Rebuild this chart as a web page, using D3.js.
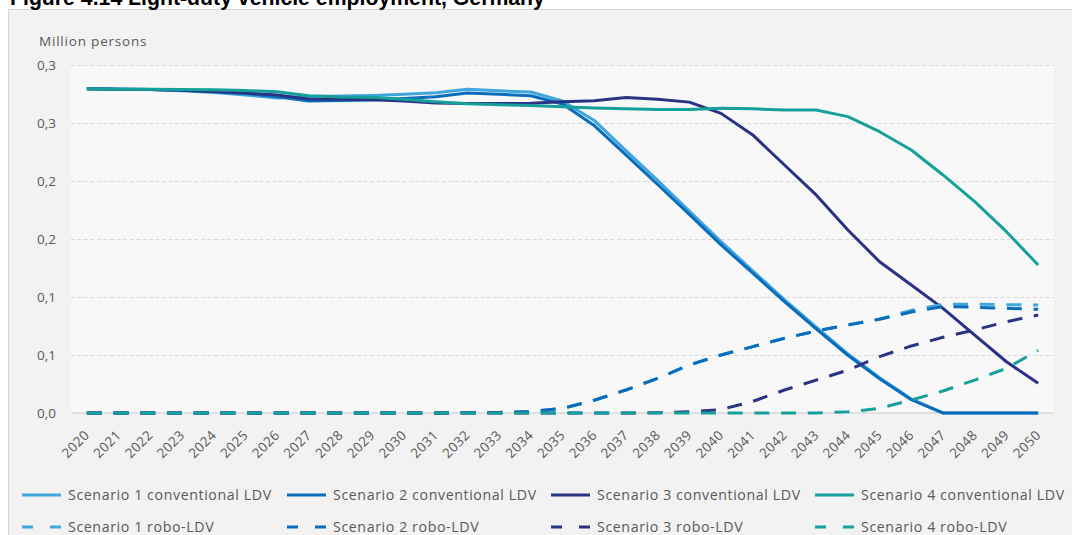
<!DOCTYPE html>
<html>
<head>
<meta charset="utf-8">
<script src="https://cdn.jsdelivr.net/npm/d3@7/dist/d3.min.js"></script>
<style>
  html, body { margin: 0; padding: 0; background: #ffffff; }
  svg { display: block; }
  .lbl { font-family: "Open Sans", "Noto Sans", sans-serif; fill: #595959; }
</style>
</head>
<body>
<svg id="chart" width="1072" height="535"></svg>
<script>
// Light-duty vehicle employment in Germany, million persons, 2020-2050
const years = ["2020","2021","2022","2023","2024","2025","2026","2027","2028","2029","2030",
  "2031","2032","2033","2034","2035","2036","2037","2038","2039","2040",
  "2041","2042","2043","2044","2045","2046","2047","2048","2049","2050"];

const s1Conventional = [0.2795,0.2792,0.2789,0.2778,0.2762,0.2742,0.2715,0.2728,0.2733,0.2737,0.2747,
  0.2760,0.2790,0.2777,0.2767,0.2690,0.2522,0.2262,0.2005,0.1740,0.1478,
  0.1225,0.0978,0.0740,0.0510,0.0305,0.0120,0,0,0,0];
const s2Conventional = [0.2795,0.2792,0.2789,0.2782,0.2770,0.2755,0.2727,0.2690,0.2693,0.2698,0.2712,
  0.2727,0.2759,0.2747,0.2735,0.2664,0.2478,0.2225,0.1970,0.1712,0.1450,
  0.1205,0.0960,0.0725,0.0498,0.0295,0.0115,0,0,0,0];
const s3Conventional = [0.2795,0.2792,0.2789,0.2782,0.2772,0.2758,0.2741,0.2707,0.2705,0.2700,0.2690,
  0.2672,0.2668,0.2668,0.2670,0.2684,0.2692,0.2720,0.2705,0.2680,0.2583,
  0.2397,0.2138,0.1880,0.1578,0.1304,0.1103,0.0902,0.0672,0.0442,0.0256];
const s4Conventional = [0.2795,0.2792,0.2790,0.2789,0.2787,0.2780,0.2770,0.2735,0.2725,0.2722,0.2704,
  0.2684,0.2667,0.2657,0.2651,0.2640,0.2630,0.2622,0.2617,0.2617,0.2627,
  0.2622,0.2612,0.2612,0.2555,0.2425,0.2267,0.2052,0.1822,0.1563,0.1276];

const s1Robo = [0,0,0,0,0,0,0,0,0,0,0,
  0,0.0002,0.0005,0.0012,0.0040,0.0110,0.0198,0.0299,0.0414,0.0500,
  0.0572,0.0644,0.0707,0.0759,0.0810,0.0885,0.0937,0.0937,0.0934,0.0931];
const s2Robo = [0,0,0,0,0,0,0,0,0,0,0,
  0,0.0002,0.0005,0.0012,0.0040,0.0110,0.0198,0.0299,0.0414,0.0500,
  0.0572,0.0644,0.0707,0.0759,0.0808,0.0870,0.0917,0.0912,0.0903,0.0894];
const s3Robo = [0,0,0,0,0,0,0,0,0,0,0,
  0,0,0,0,0,0,0,0.0003,0.0010,0.0030,
  0.0100,0.0198,0.0284,0.0370,0.0486,0.0578,0.0653,0.0716,0.0787,0.0845];
const s4Robo = [0,0,0,0,0,0,0,0,0,0,0,
  0,0,0,0,0,0,0,0,0,0,
  0,0,0,0.0010,0.0040,0.0112,0.0190,0.0284,0.0385,0.0540];

const yTickValues = [0, 0.05, 0.10, 0.15, 0.20, 0.25, 0.30];
const yTickLabels = ["0,0","0,1","0,1","0,2","0,2","0,3","0,3"];

const seriesNames = [
  "Scenario 1 conventional LDV","Scenario 2 conventional LDV","Scenario 3 conventional LDV","Scenario 4 conventional LDV",
  "Scenario 1 robo-LDV","Scenario 2 robo-LDV","Scenario 3 robo-LDV","Scenario 4 robo-LDV"
];
const seriesValues = [s1Conventional, s2Conventional, s3Conventional, s4Conventional,
  s1Robo, s2Robo, s3Robo, s4Robo];
const scenarioColors = ["#41a6dd", "#0a6dbb", "#2a3383", "#16a09b"];

const series = seriesNames.map((name, i) => ({
  name,
  values: seriesValues[i],
  color: scenarioColors[i % 4],
  dashed: i >= 4
}));

const svg = d3.select("#chart");

// outer chart panel
svg.append("rect")
  .attr("x", 8.5).attr("y", 9.5)
  .attr("width", 1100).attr("height", 560)
  .attr("fill", "#f2f2f2").attr("stroke", "#d6d6d6").attr("stroke-width", 1);

// title (partly above the panel)
const title = svg.append("text")
  .attr("x", 10).attr("y", 5)
  .attr("font-family", "'Liberation Sans', Arial, sans-serif")
  .attr("font-weight", "bold")
  .attr("font-size", 100)
  .attr("fill", "#000")
  .text("Figure 4.14 Light-duty vehicle employment, Germany");
const tw = title.node().getComputedTextLength();
title.attr("font-size", 100 * 535 / tw);

const plot = { left: 71, right: 1054, top: 65, bottom: 413 };

const x = d3.scalePoint().domain(years).range([plot.left, plot.right]).padding(0.5);
const y = d3.scaleLinear().domain([0, 0.3]).range([plot.bottom, plot.top]);

// plot area
svg.append("rect")
  .attr("x", plot.left).attr("y", plot.top)
  .attr("width", plot.right - plot.left).attr("height", plot.bottom - plot.top)
  .attr("fill", "#f8f8f8");

// horizontal gridlines
const grid = svg.append("g")
  .attr("transform", `translate(${plot.left},0)`)
  .call(d3.axisLeft(y).tickValues(yTickValues.slice(1)).tickSize(-(plot.right - plot.left)).tickFormat(""));
grid.select(".domain").remove();
grid.selectAll(".tick line")
  .attr("stroke", "#d9d9d9").attr("stroke-width", 1).attr("stroke-dasharray", "4,2.5");

// baseline at zero
svg.append("line")
  .attr("x1", plot.left).attr("x2", plot.right)
  .attr("y1", y(0)).attr("y2", y(0))
  .attr("stroke", "#d9d9d9").attr("stroke-width", 1.5);

// y axis labels
const yAxis = svg.append("g")
  .attr("transform", `translate(${plot.left},0)`)
  .call(d3.axisLeft(y).tickValues(yTickValues).tickSize(0).tickPadding(15)
    .tickFormat((d, i) => yTickLabels[i]));
yAxis.select(".domain").remove();
yAxis.selectAll("text").attr("class", "lbl").attr("font-size", 13.5).attr("fill", "#595959");

// unit label
svg.append("text").attr("class", "lbl")
  .attr("x", 39).attr("y", 46)
  .attr("font-size", 13.5)
  .attr("letter-spacing", 0.8)
  .text("Million persons");

// x axis labels, rotated
const xAxis = svg.append("g")
  .attr("transform", `translate(0,${plot.bottom})`)
  .call(d3.axisBottom(x).tickSize(0));
xAxis.select(".domain").remove();
xAxis.selectAll(".tick text")
  .attr("class", "lbl")
  .attr("font-size", 13.5)
  .attr("letter-spacing", 0.4)
  .attr("text-anchor", "end")
  .attr("x", 0).attr("y", 0).attr("dy", 0)
  .attr("transform", "translate(3,23) rotate(-45)");

// series lines
const line = d3.line()
  .x((d, i) => x(years[i]))
  .y(d => y(d));

svg.append("g").selectAll("path")
  .data(series)
  .join("path")
  .attr("d", d => line(d.values))
  .attr("fill", "none")
  .attr("stroke", d => d.color)
  .attr("stroke-width", 3)
  .attr("stroke-linejoin", "round")
  .attr("stroke-dasharray", d => d.dashed ? "15,11.7" : null);

// legend: two rows of four
const legendCols = [22, 287, 551, 815];
const legendRows = [495, 527];
const legend = svg.append("g").selectAll("g")
  .data(series)
  .join("g")
  .attr("transform", (d, i) => `translate(${legendCols[i % 4]},${legendRows[Math.floor(i / 4)]})`);

legend.append("line")
  .attr("x1", 0).attr("x2", 39).attr("y1", 0).attr("y2", 0)
  .attr("stroke", d => d.color)
  .attr("stroke-width", 3)
  .attr("stroke-dasharray", d => d.dashed ? "11,17" : null);

legend.append("text")
  .attr("class", "lbl")
  .attr("x", 46).attr("y", 0).attr("dy", "0.36em")
  .attr("font-size", 14.2)
  .attr("letter-spacing", 0.6)
  .text(d => d.name);
</script>
</body>
</html>
